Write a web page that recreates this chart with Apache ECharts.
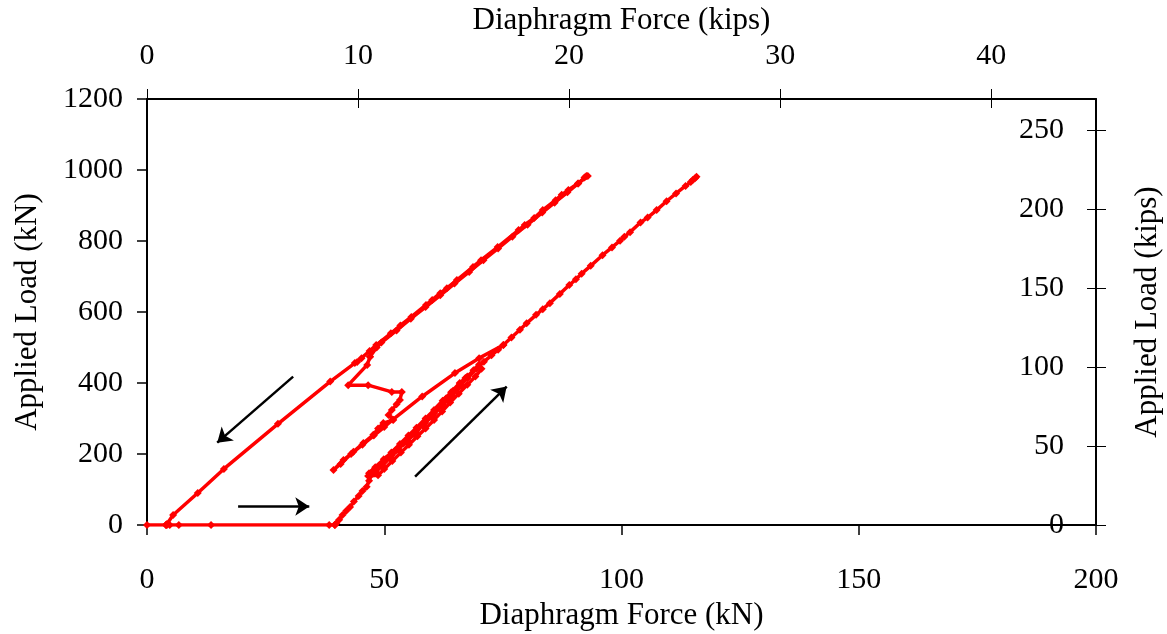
<!DOCTYPE html>
<html>
	<head>
		<title>Diaphragm Force</title>
		<meta charset="utf-8"/>
		<style type="text/css">
			*{margin: 0;padding: 0;}
			html,body{
				width: 100%;
				height: 100%;
				overflow: hidden;
				background-color: #fff;
			}
			.chart{
				width: 100vw;
				height: 100vh;
			}
		</style>
		<script type="text/javascript" src="https://cdn.jsdelivr.net/npm/echarts@6.0.0/dist/echarts.min.js"></script>
	</head>
	<body>
		<div class="chart js-chart"></div>
		<script type="text/javascript">
			// kN -> kips
			var KIPS=4.448;
			var kipsXTicks=[0,10,20,30,40];
			var kipsYTicks=[0,50,100,150,200,250];

			// [diaphragm force kN, applied load kN]
			// 卸载段 (upper-left branch, going down)
			var unloadPath=[[92.6,983],[92.2,979],[90.8,962],[88.8,944],[87.4,930],[86.1,915],[83.4,887],[81.6,865],[79.6,845],[78.3,831],
				[73.9,783],[70.4,746],[68.7,727],[65.3,690],[63.2,667],[61.8,653],[60.1,634],[58.8,620],[55.7,586],[53.4,562],
				[51.4,540],[48.3,507],[46.9,490],[45.2,470],[44.3,459],[43.8,456],[38.6,404],[27.6,285],[16.2,158],[10.7,90],[5.5,28],[4.2,3],[4.0,0]];
			// second pass on the upper branch
			var unloadPath2=[[92.9,983],[90.9,962],[88.6,937],[85.9,908],[83.3,880],[80.2,846],[77.0,812],[74.0,779],[70.9,746],
				[67.9,713],[64.8,680],[61.8,647],[58.7,614],[55.6,581],[52.6,548],[49.4,514],[48.4,500],[47.0,474]];
			// zigzag and return to the reload branch
			var zigzagPath=[[47.0,474],[46.4,451],[42.4,394],[46.6,394],[51.6,375],[53.7,375],[53.3,352],[52.6,340],[51.6,324],
				[50.9,310],[51.9,296],[49.8,287],[48.7,272],[47.7,254],[45.6,231],[43.5,206],[41.4,183],[39.3,155],
				[40.8,172],[43.0,200],[45.4,226],[47.8,252],[50.0,276],[51.8,297],[58.0,362],[64.9,428],[70.0,470],[75.1,507]];
			// bottom run at zero load
			var bottomPath=[[0,0],[4.0,0],[4.2,0],[4.8,0],[6.7,0],[13.5,0],[38.4,0],[39.6,0]];
			// 加载段 (lower-right branch with repeated small cycles)
			var reloadPath=[[39.6,0],[39.9,5],[40.5,15],[41.2,28],[42.0,40],[42.8,51],[43.6,66],[44.6,82],[45.4,96],[46.3,108],
				[46.8,125],[47.2,140],[48.5,158],[50.0,178],[51.5,196],[52.6,211],[54.0,230],[55.5,250],[57.0,270],[58.5,290],
				[60.0,310],[61.5,334],[63.0,356],[64.5,378],[66.0,398],[67.5,418],[68.8,436],[70.0,452],
				[70.5,440],[69.2,418],[67.5,395],[65.7,370],[63.9,345],[62.2,320],[60.5,296],[58.7,272],[57.0,250],[55.2,226],
				[53.5,204],[51.7,180],[50.0,158],[48.7,140],[46.6,138],
				[46.8,146],[48.1,163],[49.9,185],[51.5,204],[53.3,228],[55.1,252],[56.8,274],[58.7,300],[60.5,324],[62.3,350],
				[64.1,374],[65.9,400],[67.1,414],
				[66.2,392],[64.2,364],[62.2,336],[60.2,308],[58.2,282],[56.2,256],[54.2,232],[52.2,208],[50.4,186],[48.8,165],[47.4,150],
				[48.2,150],[49.6,168],[51.3,190],[53.0,214],[54.9,238],[56.7,262],[58.6,288],[60.5,314],[62.3,340],[64.0,364],
				[65.8,390],[67.6,414],[69.4,440],[71.0,460],[72.6,478],[74.0,494],[75.1,507],[76.8,528],[78.6,550],[80.0,568],
				[82.0,592],[83.4,608],[84.9,625],[87.0,651],[89.0,676],[90.4,692],[91.6,708],[93.5,730],[96.0,760],[98.0,782],
				[99.7,801],[100.6,812],[101.8,825],[104.0,852],[105.5,866],[107.4,887],[109.5,912],[111.5,934],[113.5,955],
				[114.6,966],[115.0,972],[115.5,977],[115.8,981]];
			// arrows, from tail to head
			var arrowNotes=[
				[[30.8,418],[14.8,232]],
				[[19.2,52],[34.2,52]],
				[[56.5,136],[75.8,390]]
			];

			var FONT="Liberation Serif";
			var black="#000";
			var red="#ff0000";

			function plain(v){
				return String(v);
			}

			function branch(data){
				return {
					type:"line",
					data:data,
					xAxisIndex:0,
					yAxisIndex:0,
					symbol:"diamond",
					symbolSize:8,
					showAllSymbol:true,
					lineStyle:{color:red,width:3.5},
					itemStyle:{color:red},
					silent:true,
					z:3
				};
			}

			var chart=echarts.init(document.querySelector(".js-chart"));
			var option={
				animation:false,
				backgroundColor:"#fff",
				grid:{left:147,right:71,top:99,bottom:109,outerBoundsMode:"none",containLabel:false},
				xAxis:[
					{
						type:"value",position:"bottom",min:0,max:200,interval:50,
						name:"Diaphragm Force (kN)",nameLocation:"middle",nameGap:68,
						nameTextStyle:{fontFamily:FONT,fontSize:31,color:black},
						axisLine:{show:true,onZero:false,lineStyle:{color:black,width:2}},
						axisTick:{show:true,length:10,lineStyle:{color:black,width:1.5}},
						axisLabel:{margin:40,fontFamily:FONT,fontSize:30,color:black,formatter:plain},
						splitLine:{show:false}
					},
					{
						type:"value",position:"top",min:0,max:200/KIPS,
						name:"Diaphragm Force (kips)",nameLocation:"middle",nameGap:63,
						nameTextStyle:{fontFamily:FONT,fontSize:31,color:black},
						axisLine:{show:true,onZero:false,lineStyle:{color:black,width:2}},
						axisTick:{show:true,length:10,customValues:kipsXTicks,lineStyle:{color:black,width:1}},
						axisLabel:{margin:28,fontFamily:FONT,fontSize:30,color:black,customValues:kipsXTicks,formatter:plain},
						splitLine:{show:false}
					},
					{
						type:"value",position:"top",min:0,max:200/KIPS,
						axisLine:{show:false,onZero:false},
						axisTick:{show:true,inside:true,length:9,customValues:kipsXTicks,lineStyle:{color:black,width:1}},
						axisLabel:{show:false},
						splitLine:{show:false}
					}
				],
				yAxis:[
					{
						type:"value",position:"left",min:0,max:1200,interval:200,
						name:"Applied Load (kN)",nameLocation:"middle",nameGap:104,nameRotate:90,
						nameTextStyle:{fontFamily:FONT,fontSize:31,color:black},
						axisLine:{show:true,onZero:false,lineStyle:{color:black,width:2}},
						axisTick:{show:true,length:10,lineStyle:{color:black,width:1.5}},
						axisLabel:{margin:24,fontFamily:FONT,fontSize:30,color:black,formatter:plain},
						splitLine:{show:false}
					},
					{
						type:"value",position:"right",min:0,max:1200/KIPS,
						name:"Applied Load (kips)",nameLocation:"middle",nameGap:36,nameRotate:90,
						nameTextStyle:{fontFamily:FONT,fontSize:31,color:black},
						axisLine:{show:true,onZero:false,lineStyle:{color:black,width:2}},
						axisTick:{show:true,length:10,customValues:kipsYTicks,lineStyle:{color:black,width:1}},
						axisLabel:{inside:true,margin:32,fontFamily:FONT,fontSize:30,color:black,customValues:kipsYTicks,formatter:plain},
						splitLine:{show:false}
					},
					{
						type:"value",position:"right",min:0,max:1200/KIPS,
						axisLine:{show:false,onZero:false},
						axisTick:{show:true,inside:true,length:9,customValues:kipsYTicks,lineStyle:{color:black,width:1}},
						axisLabel:{show:false},
						splitLine:{show:false}
					}
				],
				series:[
					branch(bottomPath),
					branch(reloadPath),
					branch(unloadPath),
					branch(unloadPath2),
					branch(zigzagPath),
					{
						type:"lines",
						coordinateSystem:"cartesian2d",
						xAxisIndex:0,
						yAxisIndex:0,
						silent:true,
						symbol:["none","arrow"],
						symbolSize:14,
						lineStyle:{color:black,width:2.5,opacity:1},
						data:arrowNotes.map(function(a){return {coords:a};}),
						z:4
					}
				]
			};
			chart.setOption(option);
		</script>
	</body>
</html>
